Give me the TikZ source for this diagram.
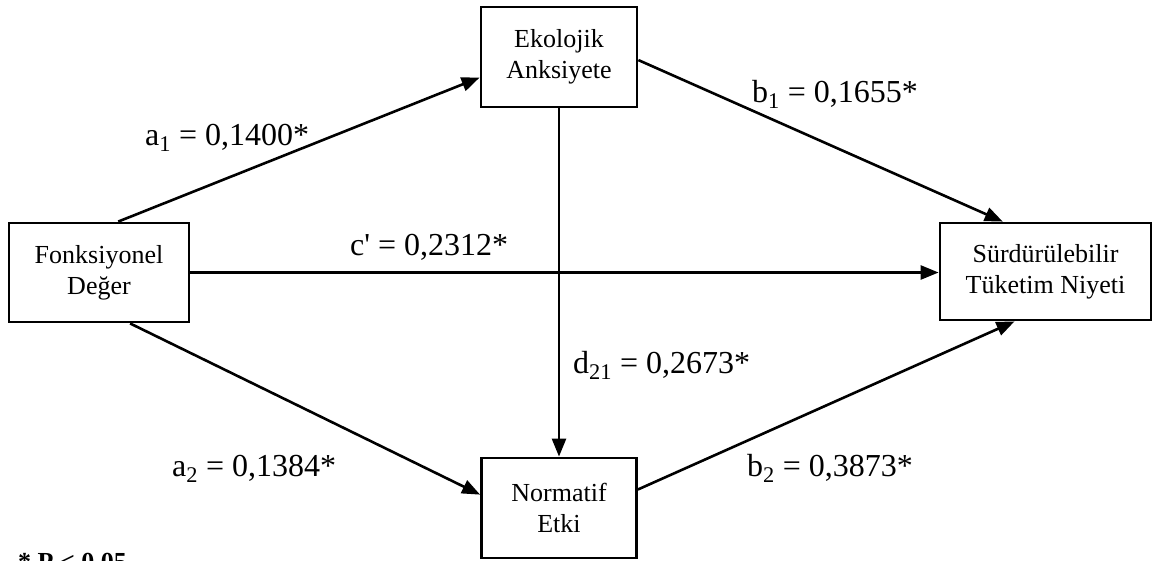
\documentclass[tikz,border=0pt]{standalone}
\usepackage{fontspec}
\setmainfont{Liberation Serif}
\usetikzlibrary{arrows.meta,calc}
\begin{document}
\begin{tikzpicture}[x=1pt,y=-1pt,
  box/.style={draw,line width=2.8pt,align=center,inner sep=0pt,
    font=\fontsize{26}{31}\selectfont},
  link/.style={line width=2.6pt,-{Triangle[length=18pt,width=14pt]}},
  coef/.style={anchor=base west,inner sep=0pt,font=\fontsize{32}{36}\selectfont}]
\useasboundingbox (0,0) rectangle (1153,560);

% variables of the serial mediation model
\node[box,minimum width=180pt,minimum height=99pt] (F) at (99,272.5) {Fonksiyonel\\Değer};
\node[box,minimum width=156pt,minimum height=100pt] (E) at (559,57) {Ekolojik\\Anksiyete};
\node[box,minimum width=155pt,minimum height=100pt] (N) at (559,508) {Normatif\\Etki};
\node[box,minimum width=211pt,minimum height=97pt] (S) at (1045.5,271.5) {Sürdürülebilir\\Tüketim Niyeti};

% paths
\draw[link] ($(F.north west)!0.605!(F.north east)$) -- ($(E.north west)!0.7!(E.south west)$);
\draw[link] ($(E.north east)!0.53!(E.south east)$) -- ($(S.north west)!0.3!(S.north east)$);
\draw[link] (F.east) -- (F.east -| S.west);
\draw[link] (E.south) -- (N.north);
\draw[link] ($(F.south west)!0.67!(F.south east)$) -- ($(N.north west)!0.37!(N.south west)$);
\draw[link] ($(N.north east)!0.32!(N.south east)$) -- ($(S.south west)!0.355!(S.south east)$);

% path coefficients
\node[coef] (la1) at (145,145) {a\textsubscript{1} = 0,1400*};
\node[coef] (lb1) at (752,102) {b\textsubscript{1} = 0,1655*};
\node[coef] (lc) at (350,255) {c\textquotesingle{} = 0,2312*};
\node[coef] (ld) at (573,373) {d\textsubscript{21} = 0,2673*};
\node[coef] (la2) at (172,476) {a\textsubscript{2} = 0,1384*};
\node[coef] (lb2) at (747,476) {b\textsubscript{2} = 0,3873*};

% significance note
\node[anchor=base west,inner sep=0pt,font=\fontsize{26}{30}\selectfont\bfseries] (note) at (18,570) {* P < 0.05};
\end{tikzpicture}
\end{document}
